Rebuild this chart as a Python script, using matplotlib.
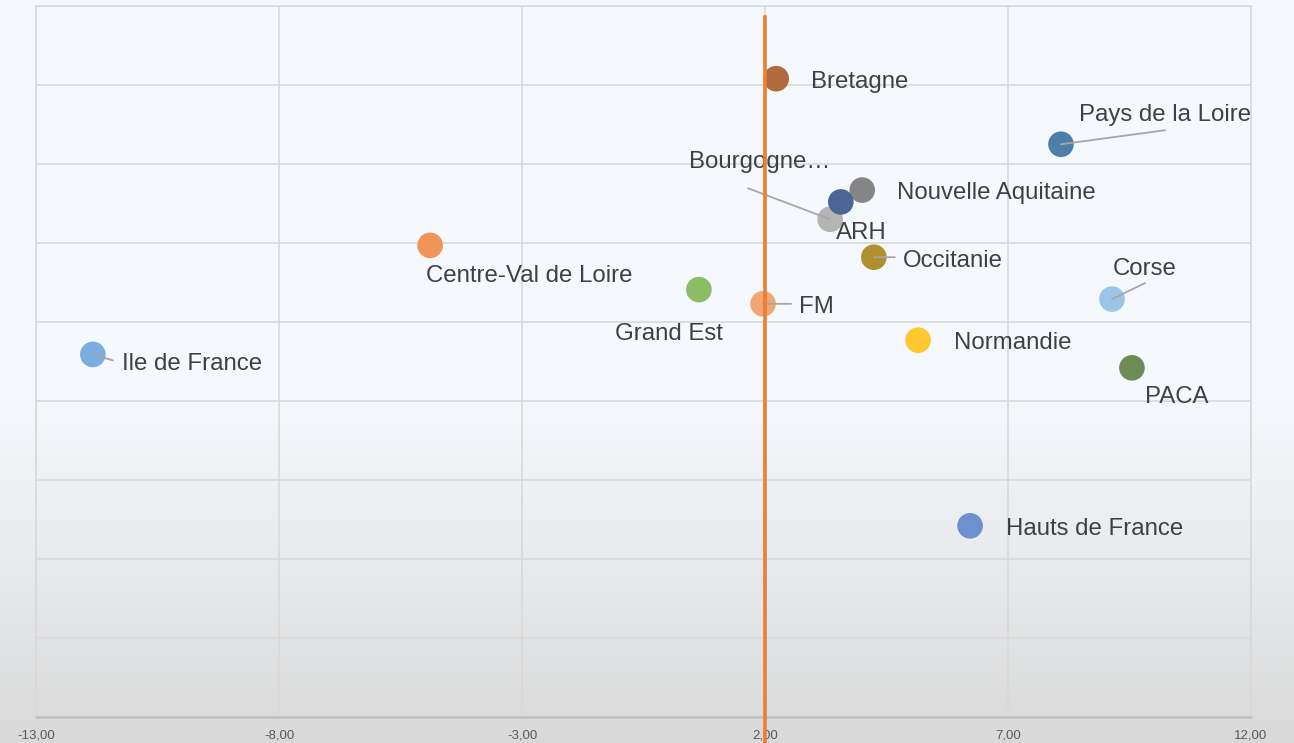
import numpy as np
import matplotlib
matplotlib.use("Agg")
import matplotlib.pyplot as plt
from matplotlib.ticker import FuncFormatter, FixedLocator, MultipleLocator

# Données (axe Y sans graduation, unités arbitraires)
regions = ["Ile de France", "Centre-Val de Loire", "Grand Est", "FM", "Bretagne",
           "Bourgogne\u2026", "Nouvelle Aquitaine", "ARH", "Occitanie", "Normandie",
           "Hauts de France", "Pays de la Loire", "Corse", "PACA"]
x_vals = [-11.83, -4.89, 0.64, 1.96, 2.23, 3.34, 4.00, 3.56, 4.24, 5.15, 6.22, 8.09, 9.14, 9.55]
y_vals = [4.59, 5.97, 5.41, 5.23, 8.08, 6.30, 6.67, 6.52, 5.82, 4.77, 2.42, 7.25, 5.29, 4.42]
ref_x = 2.0
x_ticks = [-13, -8, -3, 2, 7, 12]

colors = ["#7aaee0", "#f0955a", "#8bbd67", "#f4a573", "#b06a3c",
          "#b4b4b4", "#858585", "#4b6596", "#b0902e", "#ffc82e",
          "#6e8fd0", "#4e7fab", "#9dc3e6", "#6e8b57"]

# décalage des étiquettes (pixels) et extrémité des lignes de repère
label_offsets = {
    "Ile de France": (29, -10), "Centre-Val de Loire": (-4, -31), "Grand Est": (-84, -44),
    "FM": (36, -3), "Bretagne": (35, -3), "Bourgogne\u2026": (-141, 57),
    "Nouvelle Aquitaine": (35, -3), "ARH": (-5, -31), "Occitanie": (29, -4),
    "Normandie": (36, -3), "Hauts de France": (36, -3), "Pays de la Loire": (18, 29),
    "Corse": (1, 30), "PACA": (13, -29),
}
leaders = {
    "Ile de France": (20, -6), "FM": (28, 0), "Bourgogne\u2026": (-82, 31),
    "Occitanie": (21, 0), "Pays de la Loire": (104, 14), "Corse": (33, 16),
}

plt.rcParams['font.family'] = ['Liberation Sans', 'DejaVu Sans']

fig = plt.figure(figsize=(12.94, 7.43), dpi=100)

# fond dégradé
bg = fig.add_axes([0, 0, 1, 1], zorder=-10)
h = 743
top = np.array([245, 249, 253]) / 255
bottom = np.array([217, 217, 217]) / 255
rows = np.zeros((h, 1, 3))
for i in range(h):
    t = max(0.0, (i - 400) / (h - 400))
    rows[i, 0] = top * (1 - t) + bottom * t
bg.imshow(rows, aspect='auto', extent=[0, 1, 0, 1])
bg.axis('off')

ax = fig.add_axes([36 / 1294, 26 / 743, 1215 / 1294, 711 / 743])
ax.set_facecolor('none')
ax.set_xlim(-13, 12)
ax.set_ylim(0, 9)
ax.xaxis.set_major_locator(FixedLocator(x_ticks))
ax.yaxis.set_major_locator(MultipleLocator(1))
ax.xaxis.set_major_formatter(FuncFormatter(lambda v, p: f"{v:.2f}".replace(".", ",")))
ax.set_yticklabels([])
ax.tick_params(axis='both', length=0)
ax.tick_params(axis='x', labelsize=9.5, labelcolor='#595959', pad=9)
ax.grid(True, color='#d9d9d9', linewidth=1.2)
ax.set_axisbelow(True)
for side in ['left', 'top', 'right']:
    ax.spines[side].set_color('#d9d9d9')
    ax.spines[side].set_linewidth(1.2)
ax.spines['bottom'].set_color('#bfbfbf')
ax.spines['bottom'].set_linewidth(1.8)

for name, x, y, c in zip(regions, x_vals, y_vals, colors):
    ax.scatter(x, y, s=340, color=c, edgecolors='none', zorder=3)
    if name in leaders:
        ax.annotate('', xy=(x, y), xytext=leaders[name], textcoords='offset pixels',
                    arrowprops=dict(arrowstyle='-', color='#a6a6a6', lw=1.3,
                                    shrinkA=0, shrinkB=0), zorder=4)
    ax.annotate(name, xy=(x, y), xytext=label_offsets[name], textcoords='offset pixels',
                ha='left', va='center', fontsize=17.3, color='#404040', zorder=5)

ax.plot([ref_x, ref_x], [-0.35, 8.86], color='#ed7d31', linewidth=2.6,
        clip_on=False, zorder=6)

fig.savefig("out.png", dpi=100)
